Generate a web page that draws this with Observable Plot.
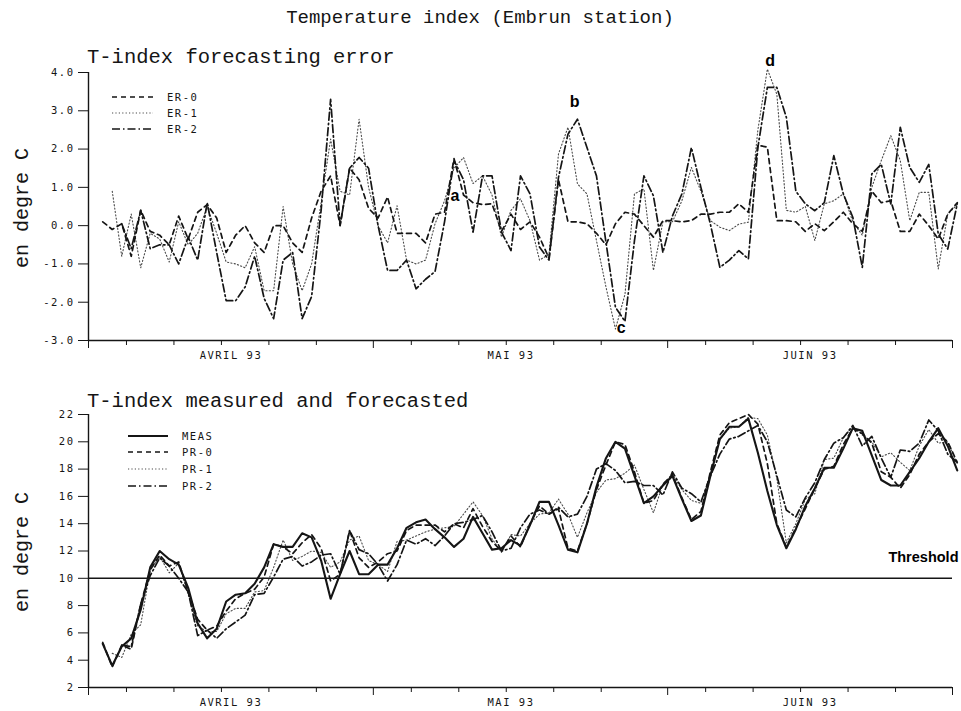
<!DOCTYPE html>
<html><head><meta charset="utf-8">
<script src="https://cdn.jsdelivr.net/npm/d3@7"></script>
<script src="https://cdn.jsdelivr.net/npm/@observablehq/plot@0.6"></script>
<style>
body{margin:0;background:#fff;}
#wrap{position:relative;width:961px;height:711px;overflow:hidden;background:#fff;}
#wrap svg{position:absolute;left:0;overflow:visible;}
</style></head><body><div id="wrap"></div>
<script>
// ---- data (day 1 = 1 April 1993; values from 2 April to 2 July) ----
const days = d3.range(2, 93);

const meas = [5.2,3.6,5.0,5.6,7.7,10.8,12.0,11.4,11.0,9.3,
  6.7,5.6,6.3,8.3,8.8,8.9,9.6,10.8,12.5,12.3,
  12.3,13.3,13.0,11.3,8.5,10.3,12.0,10.3,10.3,11.0,
  11.0,12.2,13.7,14.1,14.3,13.6,13.0,12.3,12.9,14.5,
  13.3,12.1,12.2,12.8,12.4,13.9,15.6,15.6,13.9,12.1,
  11.9,14.0,16.7,18.8,20.0,19.5,17.5,15.5,16.0,16.8,
  17.5,15.8,14.2,14.6,17.5,20.2,21.1,21.1,21.7,19.2,
  16.4,13.9,12.2,13.6,15.3,16.6,18.1,18.1,19.5,21.0,
  20.8,19.0,17.2,16.8,16.8,17.8,18.8,20.0,21.0,19.7,
  17.9];

const pr0 = [5.3,3.5,5.1,4.8,8.1,10.6,11.7,10.9,11.2,9.0,
  7.0,6.2,6.5,7.6,8.5,8.9,9.2,10.1,12.5,12.3,
  11.8,12.6,13.2,12.2,9.8,10.3,13.5,11.5,10.8,11.2,
  11.8,12.0,13.5,13.9,13.9,13.9,13.4,14.0,13.7,15.1,
  13.8,12.7,12.0,13.1,12.3,14.0,15.3,14.7,15.1,12.2,
  12.0,14.0,16.5,18.3,20.0,19.8,17.8,15.5,15.7,16.9,
  17.6,15.9,14.3,14.9,17.8,20.5,21.4,21.7,22.0,21.3,
  18.4,14.0,12.3,13.7,15.1,16.6,18.0,18.2,19.8,21.0,
  20.6,19.9,17.8,17.4,16.6,17.6,19.1,20.0,20.6,20.0,
  18.5];

const pr1 = [null,4.5,4.2,5.9,6.6,10.6,11.6,10.4,11.1,8.8,
  6.5,6.1,6.1,7.4,7.8,7.8,9.0,9.1,10.8,12.8,
  11.3,11.6,12.0,11.9,10.8,11.2,12.8,13.1,11.3,11.0,
  10.5,12.7,12.8,13.1,13.4,13.6,13.7,13.8,14.7,15.6,
  14.6,12.9,11.9,13.2,13.1,14.0,14.7,14.8,15.8,14.7,
  13.0,14.8,16.3,17.2,17.3,17.7,18.3,16.5,14.8,16.9,
  17.6,16.5,15.7,15.5,17.6,20.2,21.0,21.1,21.8,21.7,
  20.5,17.3,12.6,14.0,15.8,16.2,18.7,18.8,20.3,21.1,
  20.5,20.0,18.9,19.2,18.5,17.9,19.7,20.9,19.9,20.0,
  18.4];

const pr2 = [null,null,5.1,5.0,8.1,10.2,11.5,10.9,10.0,9.0,
  5.8,6.2,5.6,6.3,6.8,7.3,8.8,8.9,10.1,11.4,
  11.6,10.9,11.2,11.7,11.8,10.3,13.5,12.1,11.8,11.0,
  9.8,11.0,12.8,12.5,12.9,12.4,13.1,14.0,14.1,14.3,
  14.6,13.4,12.0,12.2,13.7,14.7,15.0,14.7,15.2,14.5,
  14.7,16.0,18.0,18.4,17.9,17.0,17.1,16.8,16.8,16.1,
  17.8,16.6,16.2,15.6,17.5,19.1,20.2,20.4,20.8,21.2,
  20.0,17.5,15.0,14.5,15.9,17.0,18.7,19.9,20.3,21.2,
  19.7,20.4,18.8,17.4,19.4,19.3,19.9,21.6,20.8,19.1,
  18.5];

const er0 = [0.1,-0.1,0.05,-0.8,0.4,-0.15,-0.25,-0.5,0.25,-0.35,
  0.35,0.55,0.2,-0.7,-0.25,0.0,-0.45,-0.7,0.0,0.0,
  -0.45,-0.7,0.2,0.9,1.3,0.0,1.5,1.2,0.45,0.2,
  0.75,-0.2,-0.2,-0.2,-0.45,0.3,0.35,1.75,0.8,0.6,
  0.55,0.57,-0.15,0.3,-0.1,0.1,-0.3,-0.85,1.2,0.1,
  0.1,0.05,-0.2,-0.5,0.05,0.35,0.3,0.0,-0.3,0.13,
  0.13,0.1,0.13,0.3,0.3,0.35,0.35,0.57,0.35,2.1,
  2.05,0.13,0.13,0.1,-0.15,0.05,-0.13,0.1,0.35,0.05,
  -0.15,0.9,0.6,0.65,-0.15,-0.15,0.3,0.0,-0.35,0.3,
  0.6];

const er1 = [null,0.9,-0.8,0.3,-1.1,-0.2,-0.35,-0.95,0.1,-0.5,
  -0.2,0.5,-0.2,-0.95,-1.0,-1.1,-0.55,-1.7,-1.7,0.5,
  -1.0,-1.7,-1.0,0.6,2.26,0.9,0.8,2.78,1.0,0.0,
  -0.45,0.52,-0.9,-1.0,-0.9,0.05,0.65,1.5,1.78,1.1,
  1.3,0.8,-0.3,0.4,0.7,0.13,-0.9,-0.75,1.87,2.57,
  1.09,0.83,-0.39,-1.6,-2.7,-1.8,0.83,0.96,-1.17,0.1,
  0.1,0.65,1.52,0.9,0.13,-0.04,-0.13,0.04,0.09,2.5,
  4.09,3.43,0.4,0.35,0.5,-0.39,0.57,0.65,0.83,0.1,
  -0.25,1.0,1.7,2.35,1.7,0.13,0.87,0.87,-1.13,0.3,
  0.55];

const er2 = [null,null,0.05,-0.6,0.4,-0.6,-0.5,-0.5,-1.0,-0.3,
  -0.9,0.6,-0.7,-1.96,-1.96,-1.6,-0.8,-1.9,-2.43,-0.9,
  -0.7,-2.43,-1.85,0.4,3.3,0.0,1.5,1.78,1.5,0.0,
  -1.17,-1.17,-0.9,-1.65,-1.4,-1.2,0.1,1.7,1.2,-0.17,
  1.3,1.3,-0.17,-0.65,1.3,0.83,-0.56,-0.9,1.26,2.39,
  2.78,2.04,1.3,-0.43,-2.13,-2.5,-0.4,1.3,0.78,-0.7,
  0.25,0.83,2.04,1.0,0.04,-1.09,-0.9,-0.65,-0.87,2.04,
  3.61,3.61,2.83,0.9,0.57,0.39,0.6,1.83,0.83,0.22,
  -1.09,1.35,1.6,0.57,2.57,1.52,1.13,1.6,-0.22,-0.61,
  0.57];

const annotations = [
  {day: 39.1, v: 0.78, label: "a"},
  {day: 51.7, v: 3.24, label: "b"},
  {day: 56.6, v: -2.66, label: "c"},
  {day: 72.3, v: 4.3, label: "d"}
];
const threshold = 10;

// axis definitions
const monthStarts = [0.5, 30.5, 61.5, 91.5];
const minorTicks = [4.5, 9.5, 14.5, 19.5, 24.5, 34.5, 39.5, 44.5, 49.5, 54.5, 65.5, 70.5, 75.5, 80.5, 85.5];
const monthLabelDays = [15.5, 45, 76.5];
const monthLabels = ["AVRIL 93", "MAI 93", "JUIN 93"];
const errTicks = [-3, -2, -1, 0, 1, 2, 3, 4];
const tempTicks = [2, 4, 6, 8, 10, 12, 14, 16, 18, 20, 22];

const topLegend = ["ER-0", "ER-1", "ER-2"];
const botLegend = ["MEAS", "PR-0", "PR-1", "PR-2"];

// ---- styles ----
const INK = "#151515";
const sty = {
  meas: {stroke: INK, strokeWidth: 2.1, strokeDasharray: null},
  f0: {stroke: INK, strokeWidth: 1.7, strokeDasharray: "5,4"},
  f1: {stroke: "#4a4a4a", strokeWidth: 1.1, strokeDasharray: "1.2,2.2"},
  f2: {stroke: INK, strokeWidth: 1.7, strokeDasharray: "8,3,1.5,3"}
};
const rows = vals => days.map((d, i) => ({day: d, v: vals[i]}));
const labelMap = new Map(monthLabelDays.map((d, i) => [d, monthLabels[i]]));

function xAxes() {
  return [
    Plot.axisX({ticks: monthStarts, tickSize: 8, tickFormat: () => "", stroke: INK, label: null}),
    Plot.axisX({ticks: minorTicks, tickSize: 5, tickFormat: () => "", stroke: INK, label: null}),
    Plot.axisX({ticks: monthLabelDays, tickSize: 0, tickPadding: 11, tickFormat: d => labelMap.get(d), fill: INK, label: null})
  ];
}
function line(vals, s) {
  return Plot.line(rows(vals), {x: "day", y: "v", stroke: s.stroke, strokeWidth: s.strokeWidth,
    strokeDasharray: s.strokeDasharray, strokeLinejoin: "round"});
}
const baseStyle = {background: "transparent", fontFamily: "DejaVu Sans Mono", fontSize: "10.5px", color: INK};

const topPlot = Plot.plot({
  width: 961, height: 310, marginLeft: 88, marginRight: 9, marginTop: 10, marginBottom: 32,
  style: baseStyle,
  x: {domain: [0.5, 91.5], label: null},
  y: {domain: [-3, 4], label: null},
  marks: [
    ...xAxes(),
    Plot.axisY({ticks: errTicks, tickSize: 10, tickPadding: 4, tickFormat: d => d.toFixed(1), stroke: INK, fill: INK, label: null}),
    Plot.ruleX([0.5], {stroke: INK, strokeWidth: 1.4}),
    Plot.ruleY([-3], {stroke: INK, strokeWidth: 1.4}),
    line(er1, sty.f1),
    line(er0, sty.f0),
    line(er2, sty.f2),
    Plot.text(annotations, {x: "day", y: "v", text: "label", fontFamily: "Liberation Sans", fontWeight: "bold", fontSize: 16, fill: "#000"})
  ]
});

const botPlot = Plot.plot({
  width: 961, height: 305, marginLeft: 88, marginRight: 9, marginTop: 9, marginBottom: 23,
  style: baseStyle,
  x: {domain: [0.5, 91.5], label: null},
  y: {domain: [2, 22], label: null},
  marks: [
    ...xAxes(),
    Plot.axisY({ticks: tempTicks, tickSize: 10, tickPadding: 4, tickFormat: d => String(d), stroke: INK, fill: INK, label: null}),
    Plot.ruleX([0.5], {stroke: INK, strokeWidth: 1.4}),
    Plot.ruleY([2], {stroke: INK, strokeWidth: 1.4}),
    Plot.ruleY([threshold], {stroke: INK, strokeWidth: 1.4}),
    Plot.text([threshold], {y: d => d, text: () => "Threshold", frameAnchor: "right", textAnchor: "end", dx: 6, dy: -21,
      fontFamily: "Liberation Sans", fontWeight: "bold", fontSize: 14.5, fill: "#000"}),
    line(pr1, sty.f1),
    line(pr0, sty.f0),
    line(pr2, sty.f2),
    line(meas, sty.meas)
  ]
});

const wrap = document.getElementById("wrap");
topPlot.style.top = "62px";
botPlot.style.top = "405px";
wrap.appendChild(topPlot);
wrap.appendChild(botPlot);
for (const p of [topPlot, botPlot]) {
  d3.select(p).selectAll('[aria-label$="tick label"] text').style("letter-spacing", "1.5px");
}

// ---- overlay: titles, axis titles, legends ----
const ov = d3.select(wrap).append("svg").attr("width", 961).attr("height", 711).style("top", "0px").style("pointer-events", "none");
const mono = "Liberation Mono";
ov.append("text").attr("x", 480).attr("y", 23).attr("text-anchor", "middle")
  .attr("font-family", mono).attr("font-size", 19).attr("fill", INK).text("Temperature index (Embrun station)");
ov.append("text").attr("x", 87).attr("y", 63).attr("font-family", mono).attr("font-size", 20.5).attr("fill", INK).text("T-index forecasting error");
ov.append("text").attr("x", 87).attr("y", 407).attr("font-family", mono).attr("font-size", 20.5).attr("fill", INK).text("T-index measured and forecasted");
for (const cy of [208, 552]) {
  ov.append("text").attr("transform", `translate(28,${cy}) rotate(-90)`).attr("text-anchor", "middle")
    .attr("font-family", mono).attr("font-size", 20).attr("fill", INK).text("en degre C");
}
function legend(items, styles, x0, x1, tx, ys) {
  items.forEach((name, i) => {
    const s = styles[i];
    ov.append("line").attr("x1", x0).attr("x2", x1).attr("y1", ys[i]).attr("y2", ys[i])
      .attr("stroke", s.stroke).attr("stroke-width", s.strokeWidth).attr("stroke-dasharray", s.strokeDasharray);
    ov.append("text").attr("x", tx).attr("y", ys[i] + 4).attr("font-family", "DejaVu Sans Mono").attr("font-size", 10.5)
      .attr("letter-spacing", "1.5px").attr("fill", INK).text(name);
  });
}
legend(topLegend, [sty.f0, sty.f1, sty.f2], 112, 153, 167, [97, 113, 129]);
legend(botLegend, [sty.meas, sty.f0, sty.f1, sty.f2], 128, 168, 182, [436, 452, 469, 486]);
</script>
</body></html>
